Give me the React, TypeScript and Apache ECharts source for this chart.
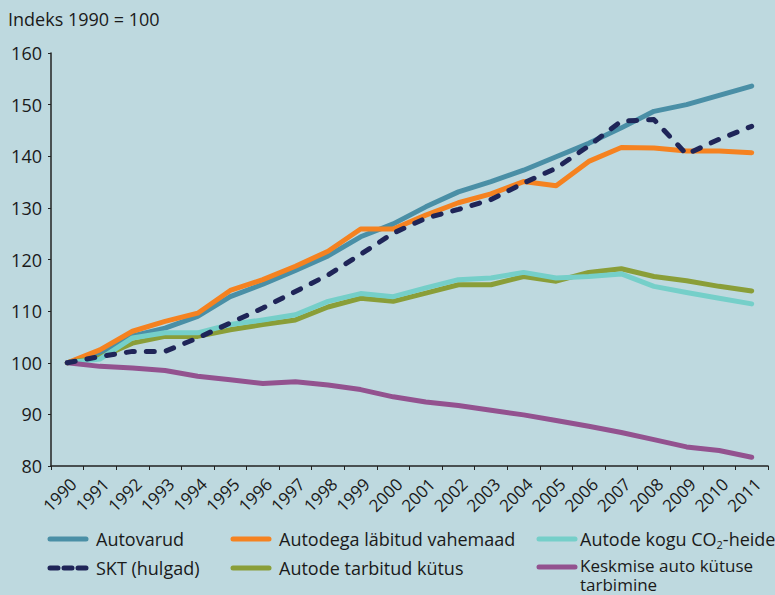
import React, { useEffect, useRef } from "react";
import * as echarts from "echarts";

const years = ["1990","1991","1992","1993","1994","1995","1996","1997","1998","1999","2000","2001","2002","2003","2004","2005","2006","2007","2008","2009","2010","2011"];

const autovarud = [100, 101.6, 105.2, 106.7, 109.0, 112.8, 115.2, 117.9, 120.7, 124.4, 126.9, 130.2, 133.1, 135.1, 137.3, 139.9, 142.5, 145.5, 148.7, 150.0, 151.8, 153.6];
const labitud = [100, 102.5, 106.1, 108.0, 109.6, 114.0, 116.1, 118.7, 121.6, 125.9, 125.9, 128.6, 131.0, 132.7, 135.1, 134.3, 139.0, 141.7, 141.6, 141.0, 141.0, 140.7];
const co2 = [100, 100.7, 104.8, 105.8, 105.8, 107.4, 108.3, 109.3, 111.9, 113.4, 112.8, 114.5, 116.1, 116.4, 117.5, 116.4, 116.7, 117.2, 114.8, 113.6, 112.5, 111.4];
const skt = [100, 101.2, 102.2, 102.2, 104.8, 107.7, 110.6, 113.8, 117.0, 121.0, 125.1, 128.0, 129.7, 131.6, 134.8, 137.7, 142.0, 146.8, 147.1, 140.4, 143.3, 145.8];
const kutus = [100, 101.0, 103.8, 105.1, 105.1, 106.4, 107.4, 108.3, 110.8, 112.5, 111.9, 113.5, 115.1, 115.1, 116.7, 115.8, 117.5, 118.2, 116.7, 115.9, 114.8, 113.9];
const tarbimine = [100, 99.3, 99.0, 98.5, 97.4, 96.7, 96.0, 96.3, 95.7, 94.8, 93.4, 92.4, 91.7, 90.8, 89.9, 88.8, 87.7, 86.5, 85.1, 83.7, 83.0, 81.7];

const C_BLUE = "#4a8fa6";
const C_ORANGE = "#f58220";
const C_CYAN = "#75cfc9";
const C_NAVY = "#1f2558";
const C_OLIVE = "#8a9e38";
const C_PURPLE = "#93528f";
const BG = "#bed9df";
const FONT = "'Open Sans', 'Noto Sans', sans-serif";
const TXT = "#1a1a1a";
const FS = 18;

export default function App() {
  const ref = useRef<HTMLDivElement>(null);
  useEffect(() => {
    if (!ref.current) return;
    const chart = echarts.init(ref.current, null, { renderer: "svg" });
    const mk = (name: string, data: number[], color: string, z: number, dashed = false) => ({
      name,
      type: "line",
      data,
      symbol: "none",
      z,
      lineStyle: {
        color,
        width: 5,
        cap: "round",
        join: "round",
        type: dashed ? [8, 12] : "solid",
      },
    });
    const legendItem = (x: number, tx: number, y: number, color: string, label: any, dashed = false) => [
      {
        type: "line",
        shape: { x1: x, y1: y, x2: x + 36, y2: y },
        style: { stroke: color, lineWidth: 5, lineCap: "round", lineDash: dashed ? [8, 6] : null },
      },
      {
        type: "text",
        x: tx,
        y: y,
        style: { fill: TXT, fontSize: FS, fontFamily: FONT, verticalAlign: "middle", ...label },
      },
    ];
    chart.setOption({
      animation: false,
      backgroundColor: BG,
      grid: { left: 51, right: 7, top: 53, bottom: 129, containLabel: false },
      xAxis: {
        type: "category",
        data: years,
        boundaryGap: true,
        axisLine: { show: true, lineStyle: { color: "#222", width: 1.5 } },
        axisTick: { show: true, alignWithLabel: false, length: 4, lineStyle: { color: "#222" } },
        axisLabel: { rotate: 45, fontSize: 17, color: TXT, fontFamily: FONT, margin: 9, interval: 0, verticalAlign: "top" },
        splitLine: { show: false },
      },
      yAxis: {
        type: "value",
        min: 80,
        max: 160,
        interval: 10,
        axisLine: { show: true, lineStyle: { color: "#222", width: 1.5 } },
        axisTick: { show: true, length: 3, lineStyle: { color: "#222" } },
        axisLabel: { fontSize: FS, color: TXT, fontFamily: FONT, margin: 9 },
        splitLine: { show: false },
      },
      series: [
        mk("Autovarud", autovarud, C_BLUE, 2),
        mk("Autodega läbitud vahemaad", labitud, C_ORANGE, 3),
        mk("Autode tarbitud kütus", kutus, C_OLIVE, 4),
        mk("Autode kogu CO2-heide", co2, C_CYAN, 5),
        mk("Keskmise auto kütuse tarbimine", tarbimine, C_PURPLE, 6),
        mk("SKT (hulgad)", skt, C_NAVY, 7, true),
      ],
      graphic: [
        {
          type: "text",
          x: 8,
          y: 19,
          style: { text: "Indeks 1990 = 100", fill: TXT, fontSize: FS, fontFamily: FONT, verticalAlign: "middle" },
        },
        ...legendItem(50, 96, 539, C_BLUE, { text: "Autovarud" }),
        ...legendItem(233, 279, 539, C_ORANGE, { text: "Autodega läbitud vahemaad" }),
        ...legendItem(539, 580, 539, C_CYAN, {
          text: "Autode kogu CO{sub|2}-heide",
          rich: { sub: { fontSize: 11, fontFamily: FONT, fill: TXT, padding: [10, 0, 0, 0] } },
        }),
        ...legendItem(50, 96, 568, C_NAVY, { text: "SKT (hulgad)" }, true),
        ...legendItem(233, 279, 568, C_OLIVE, { text: "Autode tarbitud kütus" }),
        {
          type: "line",
          shape: { x1: 539, y1: 567, x2: 575, y2: 567 },
          style: { stroke: C_PURPLE, lineWidth: 5, lineCap: "round" },
        },
        {
          type: "text",
          x: 580,
          y: 556,
          style: {
            text: "Keskmise auto kütuse\ntarbimine",
            fill: TXT,
            fontSize: 17,
            lineHeight: 19,
            fontFamily: FONT,
            verticalAlign: "top",
          },
        },
      ],
    });
    return () => chart.dispose();
  }, []);
  return (
    <div
      ref={ref}
      style={{ position: "absolute", left: 0, top: 0, width: 775, height: 595 }}
    />
  );
}
